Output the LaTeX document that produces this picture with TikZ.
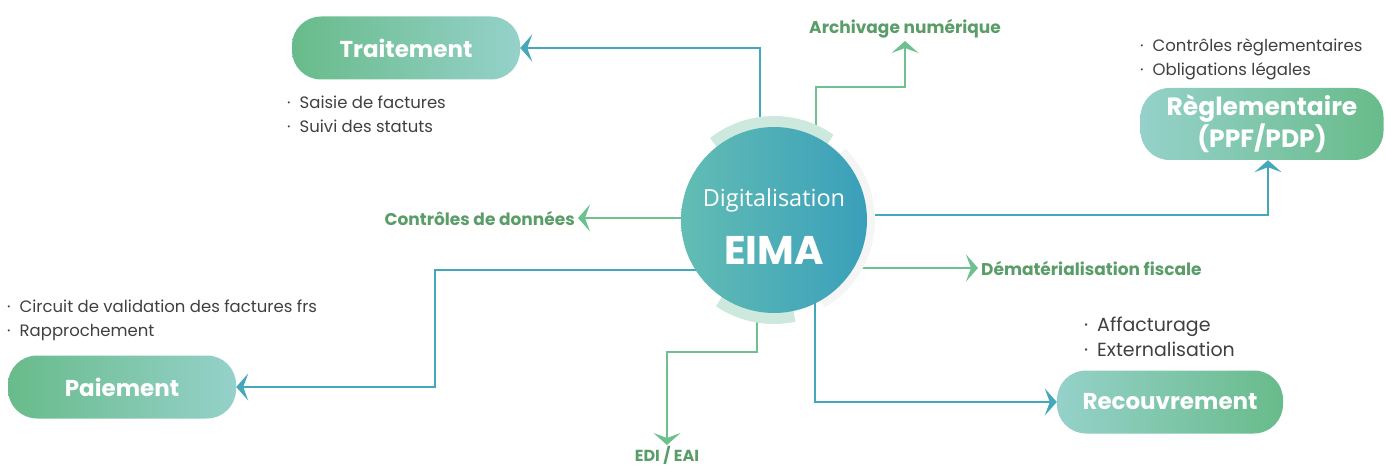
\documentclass[tikz,border=0pt]{standalone}
\usepackage{fontspec}
\setmainfont{Poppins}
\newfontfamily\discfont{Open Sans}
\usetikzlibrary{arrows.meta,calc,positioning}
\definecolor{lineblue}{HTML}{44A7BA}
\definecolor{linegreen}{HTML}{6CC18E}
\definecolor{labelgreen}{HTML}{5A9D68}
\definecolor{boxgreen}{HTML}{68BB8A}
\definecolor{boxteal}{HTML}{95D1CA}
\definecolor{discleft}{HTML}{62BDB4}
\definecolor{discright}{HTML}{3A9FBA}
\definecolor{halo}{HTML}{CDE9DE}
\definecolor{bullettext}{HTML}{404040}
\tikzset{
  pill/.style={rounded corners=29pt, minimum width=228pt, minimum height=63pt,
    inner sep=0pt, text=white, font=\bfseries\fontsize{23}{27}\selectfont},
  bullets/.style={anchor=north west, align=left, inner sep=0pt, text=bullettext,
    font=\fontsize{16.5}{24}\selectfont},
  tag/.style={text=labelgreen, inner sep=3pt, font=\bfseries\fontsize{17}{20}\selectfont},
  bluearrow/.style={line width=2.6pt, draw=lineblue,
    -{Stealth[length=12pt,width=27pt,inset=5pt]}},
  greenarrow/.style={line width=2.6pt, draw=linegreen,
    -{Stealth[length=12pt,width=27pt,inset=5pt]}},
}
\newcommand{\pt}{\textperiodcentered\hspace{9pt}}
\begin{document}
\begin{tikzpicture}[x=1pt,y=-1pt]
  \useasboundingbox (0,0) rectangle (1385,468);
  %%%%% START %%%%%

  % boxes
  \node[pill, left color=boxgreen, right color=boxteal] (trait) at (406,48) {Traitement};
  \node[pill, left color=boxgreen, right color=boxteal] (pai) at (122,387) {Paiement};
  \node[pill, left color=boxteal, right color=boxgreen, minimum width=243pt,
        minimum height=72pt, align=center, font=\bfseries\fontsize{25}{28}\selectfont]
        (regl) at (1262,124) {Règlementaire\\(PPF/PDP)};
  \node[pill, left color=boxteal, right color=boxgreen, minimum width=226pt] (recv)
        at (1170,402) {Recouvrement};

  % bullet lists
  \node[bullets] (traitlist) at (287,96) {\pt Saisie de factures\\\pt Suivi des statuts};
  \node[bullets] (regllist) at (1140,38) {\pt Contrôles règlementaires\\\pt Obligations légales};
  \node[bullets] (pailist) at (7,300) {\pt Circuit de validation des factures frs\\\pt Rapprochement};
  \node[bullets, font=\fontsize{19}{25}\selectfont] (recvlist) at (1084,317)
        {\pt Affacturage\\\pt Externalisation};

  % green tags
  \node[tag, anchor=south] (arch) at (905,41) {Archivage numérique};
  \node[tag, anchor=east] (ctrl) at (578,218) {Contrôles de données};
  \node[tag, anchor=west] (demat) at (978,268) {Dématérialisation fiscale};
  \node[tag, anchor=north, inner sep=1pt, font=\bfseries\fontsize{16}{18}\selectfont]
        (edi) at (667,445) {EDI / EAI};

  % connectors
  \coordinate (o) at (774,220);
  \coordinate (arbend) at (905,87);
  \coordinate (edibend) at (667,352);
  \coordinate (paibend) at (435,270);
  \draw[bluearrow] ([xshift=-14pt]o) |- (trait.east);
  \draw[greenarrow] ([xshift=42pt]o) |- (arbend) -- (arch.south);
  \draw[bluearrow] ([yshift=5pt]o) -| ([xshift=6pt]regl.south);
  \draw[greenarrow] ([yshift=-48pt]o) -- (demat.west);
  \draw[bluearrow] ([xshift=41pt]o) |- (recv.west);
  \draw[greenarrow] ([xshift=-17pt]o) |- (edibend) -- (edi.north);
  \draw[bluearrow] ([yshift=-50pt]o) -- (paibend) |- (pai.east);
  \draw[greenarrow] ([yshift=2pt]o) -- (ctrl.east);

  % disc
  \draw[halo, line width=12pt] ([shift={(55:98pt)}]o) arc[start angle=55, end angle=128, radius=98pt];
  \draw[halo, line width=12pt] ([shift={(236:98pt)}]o) arc[start angle=236, end angle=282, radius=98pt];
  \draw[black!4, line width=8pt] ([shift={(-60:97pt)}]o) arc[start angle=-60, end angle=45, radius=97pt];
  \node[circle, minimum size=186pt, inner sep=0pt, left color=discleft,
        right color=discright] (eima) at (o) {};
  \node[text=white, font=\discfont\fontsize{23.5}{27}\selectfont] (digi) at (774,200) {Digitalisation};
  \node[text=white, font=\bfseries\fontsize{40}{46}\selectfont] (eimatext) at (774,250) {EIMA};

  %%%%% END %%%%%
\end{tikzpicture}
\end{document}
